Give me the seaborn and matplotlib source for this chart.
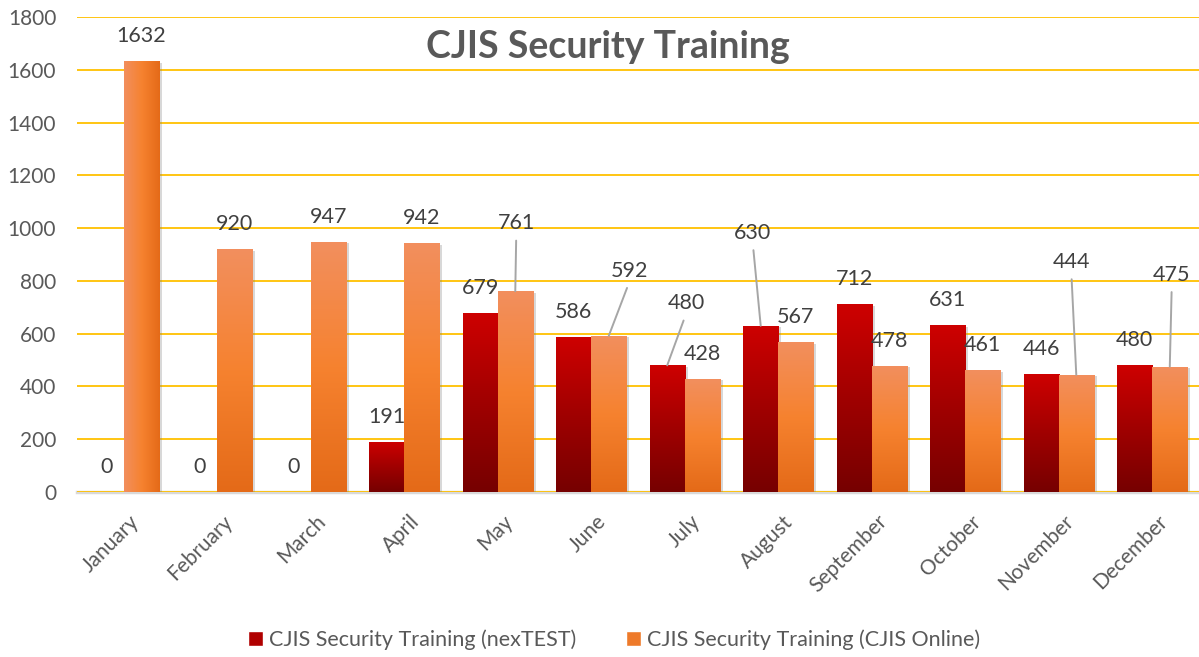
import numpy as np
import pandas as pd
import matplotlib
matplotlib.use('Agg')
import matplotlib.pyplot as plt
import seaborn as sns
from matplotlib.colors import LinearSegmentedColormap
from matplotlib.patches import Patch
from matplotlib.transforms import ScaledTranslation
import matplotlib.patheffects as pe

# Du lieu
months = ['January', 'February', 'March', 'April', 'May', 'June', 'July',
          'August', 'September', 'October', 'November', 'December']
series_names = ['CJIS Security Training (nexTEST)', 'CJIS Security Training (CJIS Online)']
nextest = [0, 0, 0, 191, 679, 586, 480, 630, 712, 631, 446, 480]
cjis_online = [1632, 920, 947, 942, 761, 592, 428, 567, 478, 461, 444, 475]
y_ticks = [0, 200, 400, 600, 800, 1000, 1200, 1400, 1600, 1800]

# nhan du lieu bi keo ra (co duong dan), offset theo pixel
label_moves = {
    (1, 'May'): (1, 68),
    (1, 'June'): (21, 65),
    (0, 'July'): (19, 62),
    (0, 'August'): (-8, 93),
    (1, 'November'): (-5, 113),
    (1, 'December'): (2, 92),
}

TEXT = '#595959'
red_cmap = LinearSegmentedColormap.from_list('red_grad', ['#760000', '#A00000', '#CE0000'])
orange_cmap = LinearSegmentedColormap.from_list('orange_grad', ['#E46A18', '#F6822F', '#F28F5E'])

sns.set_theme(style='white')
plt.rcParams['font.family'] = ['Lato', 'DejaVu Sans']

df = pd.DataFrame({
    'Month': months * 2,
    'Series': [series_names[0]] * 12 + [series_names[1]] * 12,
    'Value': nextest + cjis_online,
})

fig = plt.figure(figsize=(11.99, 6.57), dpi=100)
ax = fig.add_axes([77 / 1199, 1 - 492 / 657, 1122 / 1199, 475 / 657])

sns.barplot(data=df, x='Month', y='Value', hue='Series', hue_order=series_names,
            order=months, width=0.75, palette=['#B00000', '#EE7A2A'],
            legend=False, ax=ax, saturation=1, edgecolor='none')

ax.set_ylim(0, 1800)
ax.set_xlim(-0.5, 11.5)
xlim, ylim = ax.get_xlim(), ax.get_ylim()

grad_v = np.linspace(0, 1, 256).reshape(-1, 1)
grad_h = np.linspace(1, 0, 256).reshape(1, -1)

for s, (cont, cmap) in enumerate(zip(ax.containers, [red_cmap, orange_cmap])):
    for i, bar in enumerate(cont):
        h = bar.get_height()
        x0 = bar.get_x()
        w = bar.get_width()
        bar.set_path_effects([pe.SimplePatchShadow(offset=(2, -1), shadow_rgbFace='#7f7f7f', alpha=0.3),
                              pe.Normal()])
        if h > 0:
            g = grad_h if (s == 1 and i == 0) else grad_v
            im = ax.imshow(g, extent=[x0, x0 + w, 0, h], origin='lower', aspect='auto',
                           cmap=cmap, zorder=bar.get_zorder() + 0.1)
            im.set_clip_path(bar)
        # nhan du lieu
        key = (s, months[i])
        cx = x0 + w / 2
        if key in label_moves:
            dx, dy = label_moves[key]
            ax.annotate(f'{int(h)}', xy=(cx, h), xytext=(dx, dy), textcoords='offset pixels',
                        ha='center', va='center', fontsize=15.5, color='#404040',
                        arrowprops=dict(arrowstyle='-', color='#A6A6A6', lw=1.4,
                                        relpos=(0.5, 0), shrinkA=3, shrinkB=0))
        else:
            ax.annotate(f'{int(h)}', xy=(cx, h), xytext=(0, 25), textcoords='offset pixels',
                        ha='center', va='center', fontsize=15.5, color='#404040')

ax.set_xlim(xlim)
ax.set_ylim(ylim)

# truc va luoi
ax.set_yticks(y_ticks)
ax.yaxis.grid(True, color='#FFC000', lw=1.3)
ax.xaxis.grid(False)
ax.set_axisbelow(True)
for sp in ['left', 'top', 'right']:
    ax.spines[sp].set_visible(False)
ax.spines['bottom'].set_color('#D9D9D9')
ax.spines['bottom'].set_linewidth(2.5)
ax.spines['bottom'].set_zorder(0.5)
ax.tick_params(axis='y', length=0, pad=15, labelsize=15, labelcolor=TEXT)
ax.tick_params(axis='x', length=0, pad=14, labelsize=15, labelcolor=TEXT)
ax.set_xlabel('')
ax.set_ylabel('')
for lab in ax.get_xticklabels():
    lab.set_rotation(45)
    lab.set_ha('right')
    lab.set_va('top')
    lab.set_rotation_mode('anchor')
    lab.set_transform(lab.get_transform() + ScaledTranslation(5 / 100, 0, fig.dpi_scale_trans))

# tieu de
fig.text(608 / 1199, 1 - 47 / 657, 'CJIS Security Training', ha='center', va='center',
         fontsize=27, fontweight='bold', color=TEXT)

# chu giai
handles = [Patch(facecolor='#B00000'), Patch(facecolor='#EE7A2A')]
fig.legend(handles, series_names, loc='center', bbox_to_anchor=(614 / 1199, 1 - 640 / 657),
           ncol=2, frameon=False, fontsize=15.5, labelcolor=TEXT, handlelength=0.7,
           handleheight=0.7, handletextpad=0.3, columnspacing=2.3)

fig.savefig('out.png', dpi=100)
